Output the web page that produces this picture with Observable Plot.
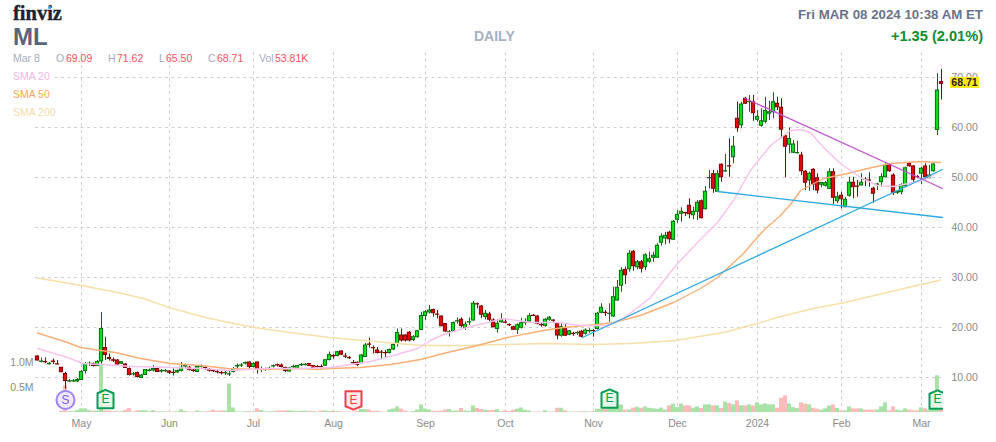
<!DOCTYPE html>
<html><head><meta charset="utf-8">
<script src="https://cdn.jsdelivr.net/npm/d3@7"></script>
<script src="https://cdn.jsdelivr.net/npm/@observablehq/plot@0.6"></script>
<style>
html,body{margin:0;padding:0;background:#fff}
#wrap{position:relative;width:996px;height:442px;overflow:hidden;font-family:"Liberation Sans",Arial,sans-serif}
#wrap svg{position:absolute;left:0;top:0;z-index:1}
.t{position:absolute;white-space:nowrap;line-height:1;z-index:2}
.lab{color:#a3aabb;font-size:10.5px}
.val{color:#f5505c;font-size:10.5px}
.sma{font-size:10.5px;background:#fff;padding-right:3px}
</style></head><body><div id="wrap">
<div id="chart"></div>
<div class="t" style="left:13px;top:2px;font:bold 20.5px 'Liberation Serif',serif;color:#1c2230;-webkit-text-stroke:.35px #1c2230">finviz</div>
<div class="t" style="left:47.5px;top:5.5px;width:3.5px;height:3.5px;border-radius:50%;background:#4aa8f5"></div>
<div class="t" style="left:13px;top:25px;font-weight:bold;font-size:24px;color:#5a6478">ML</div>
<div class="t" style="left:474px;top:29px;font-weight:bold;font-size:14px;color:#a7afc2">DAILY</div>
<div class="t" style="right:13px;top:8px;font-weight:bold;font-size:13.3px;color:#6b7388">Fri MAR 08 2024 10:38 AM ET</div>
<div class="t" style="right:13px;top:29px;font-weight:bold;font-size:14.6px;color:#0e8f2e">+1.35 (2.01%)</div>
<div class="t lab" style="left:13px;top:53px">Mar 8</div>
<div class="t lab" style="left:56px;top:53px">O</div><div class="t val" style="left:66px;top:53px">69.09</div>
<div class="t lab" style="left:108px;top:53px">H</div><div class="t val" style="left:117px;top:53px">71.62</div>
<div class="t lab" style="left:159px;top:53px">L</div><div class="t val" style="left:166px;top:53px">65.50</div>
<div class="t lab" style="left:208px;top:53px">C</div><div class="t val" style="left:217px;top:53px">68.71</div>
<div class="t lab" style="left:259px;top:53px">Vol</div><div class="t val" style="left:275px;top:53px">53.81K</div>
<div class="t sma" style="left:13px;top:71px;color:#f5b5e6">SMA 20</div>
<div class="t sma" style="left:13px;top:89px;color:#fda55e">SMA 50</div>
<div class="t sma" style="left:13px;top:107px;color:#f5dca8">SMA 200</div>
<div class="t" style="left:950px;top:77px;width:29px;height:11px;background:#ffe81a;color:#222;font-weight:bold;font-size:10.5px;line-height:11px;text-align:center">68.71</div>
</div>
<script>
const open = [
14.2,13.15,13.1,12.65,13.2,12.65,11.95,10.7,9.2,9.2,
9.2,9.5,11.3,12.7,12.7,12.3,13.2,15.9,13.9,13.45,
13.4,12.75,12.6,11.7,10.6,10.9,9.9,10.5,11.3,11.4,
11.7,11.2,11.25,11.2,10.95,11,11.3,12.2,11.95,11.4,
11.1,12.15,11.9,11.55,11.3,11.1,10.9,10.85,10.6,11.1,
12.2,12.35,12.8,13,12.1,13,11.5,11.5,11.7,12.2,
12.45,12.4,11.9,11.2,12.05,11.8,12.45,12.5,12.7,12.3,
12.1,12.1,12.35,13.5,14.3,14.3,15.2,14.2,13.9,12.9,
12.95,12.85,14.1,16.6,15.9,15.4,15,14.9,14.9,15.6,
16.7,18.4,18.4,18.95,17.5,18.05,19.5,22.3,23,23.5,
22.6,22.2,20.7,19,19.25,21.2,21.55,19.9,21,21.4,
24.65,24.2,22.1,22.6,21.4,19.7,21.05,21,20.5,20.05,
19.55,19.95,20.9,21.2,22.35,22.2,20.5,20.3,21.55,21.4,
20.85,18.35,19.85,18.55,18.75,18.85,19.15,18.75,19.25,19.3,
19.7,22.95,22.95,22.7,22.2,25.4,28.35,31.5,31.65,35.15,
32.05,33.05,32.05,33.15,33.95,33.95,36.95,37.8,38.95,37.55,
41.55,42.75,42.9,44.35,42.45,43.15,45.25,43.65,49.85,50.65,
47.15,52.55,51.2,52.25,54.05,61.75,60.45,65.75,65.05,65.05,
61.55,60.35,61.15,62.75,63.05,64.75,63.95,58.25,56.55,54.95,
54.85,54.4,51.15,49.4,51.55,49.85,48.55,48.35,47.75,51.05,
45.25,46.35,44.05,46.35,48.95,48.2,48.4,49.55,49.4,47.75,
48.55,49.05,50.05,52.55,50.4,46.95,47.05,48.25,52.75,52.2,
50.1,50.75,52.2,49.85,51.25,59.5,69.09];
const high = [
14.4,13.9,13.9,13,13.7,13.4,12,11.05,9.6,9.6,
9.8,11.4,13,13.1,12.9,13.4,23,18.05,14.7,13.9,
13.6,13.2,12.8,11.9,11,11.1,10.6,11.6,11.7,12.4,
11.9,11.6,11.6,11.4,11.7,11.5,13,12.7,12.2,11.8,
12.3,12.5,12.2,11.8,11.6,11.4,11.2,11.2,11.4,12,
12.7,12.8,13.1,13.1,13,13.1,12.1,11.9,12.1,12.5,
12.7,12.7,12.1,12,12.5,12.4,12.8,12.8,12.8,12.4,
12.4,12.5,13.5,15.1,14.6,15.2,15.4,14.8,14.2,13.4,
13.1,14.6,16.8,17.9,16.3,16,15.4,15.4,15.7,16.8,
19.7,19.7,18.6,19.2,18.4,19.4,23.05,23.4,24.4,23.7,
23.4,22.3,20.8,19.4,21.1,21.9,21.9,21.1,21.9,25.2,
24.9,24.4,23.4,23.05,21.75,21.55,22.75,21.55,20.75,20.25,
20.75,21.85,21.75,22.75,22.6,22.4,20.9,21.75,22.2,21.55,
21,20.85,20.75,19.4,19.05,19.25,19.4,19.75,19.75,19.55,
23.05,24.75,23.4,24.75,28.05,29.4,31.95,32.05,35.4,35.4,
33.4,33.4,34.75,35.05,35.05,36.75,38.75,39.05,39.25,41.4,
43.4,43.95,43.05,45.75,44.05,45.4,45.5,48.2,51.4,51.4,
51.4,52.75,54.6,57.75,58.2,65.05,65.05,66.05,66.4,66.4,
63.4,63.75,66.05,65.25,66.95,66.05,65.75,58.4,59.9,57.4,
57.25,55.05,51.4,51.05,51.75,50.75,49.05,49.2,51.75,51.75,
47.05,47.05,46.05,50.05,50.05,49.4,50.75,49.95,50.95,48.05,
48.85,50.75,52.75,52.75,50.75,47.4,48.75,52.05,52.95,52.4,
50.4,52.05,52.75,52.4,52.75,70.75,71.62];
const low = [
13.3,12.9,12.75,12.5,12.6,12.5,11,7.65,8.95,9,
8.95,9.4,10.7,12.2,12.1,12.2,12.7,13.4,13.3,13,
12.5,12.6,11.8,10.3,10.3,9.9,9.85,10.4,11.1,11.1,
11,10.9,11,10.6,10.3,10.8,11.1,11.7,11.3,11,
11,11.9,11.4,11.1,11,10.7,10.5,10.4,10.2,10.9,
11.3,12,12.5,11.7,11.9,10.7,11,11.2,11.4,11.9,
12.1,11.9,11,11.1,11.7,11.7,12.2,12.3,12.2,11.7,
11.7,11.5,12.2,13.3,13.7,14.1,14.4,13.8,13.6,12.6,
12.2,12.8,14,15.9,14.7,14.7,13.8,14,14.7,15.4,
16.1,17.1,17.1,17.1,17.2,17.9,19.4,21.4,22.7,22.1,
21.7,20.2,19.05,18.1,19.1,20.7,19.9,19.4,20.4,21.25,
23.75,21.75,21.5,21.05,19.95,18.85,20.85,20.75,20.2,19.4,
18.6,19.7,20.4,21.05,22.2,20.55,20.05,20.05,21.25,20.95,
17.55,18.05,18.3,18.35,18.25,18.45,17.95,18.45,18.85,18.05,
19.5,22.75,22.2,21.05,22.05,25.25,27.05,28.6,31.05,31.25,
31.55,30.9,31.4,32.85,33.05,33.8,36.25,36.55,36.75,37.4,
40.85,41.05,42.2,41.75,41.55,41.4,41.75,43.55,47.75,46.85,
47,49.05,51.05,50.05,52.75,59.05,59.75,64.6,63.05,61.25,
61.05,60.05,60.75,61.4,61.75,63.4,57.75,49.95,54.75,54.85,
54.7,50.4,47.4,47.25,47.4,46.75,47.95,48.1,47.55,44.6,
44.75,43.75,43.95,46.05,45.75,46.05,48.35,48.2,48.05,44.85,
47.4,48.05,49.95,51.05,46.4,46.6,46.5,48.05,52.05,49.05,
49.75,48.6,49.4,49.75,51.05,58.4,65.5];
const close = [
13.4,13.2,13.05,12.75,13.1,12.6,11.05,9.3,9.25,9.25,
9.5,11.1,12.7,12.75,12.3,13.1,19.7,14.5,13.7,13.35,
12.6,13.05,11.9,10.5,10.65,10.1,10.4,11.5,11.4,11.7,
11.1,11.3,11.3,10.95,10.9,11.3,11.95,12.3,11.55,11.3,
12.1,12.2,11.8,11.35,11.25,11.05,10.85,10.9,10.65,11.7,
12.3,12.4,12.9,12.1,12.7,11.7,11.55,11.55,11.75,12.25,
12.4,12.1,11.3,11.8,12.1,12.3,12.5,12.55,12.3,11.9,
12.05,12.05,13.45,14.5,14.2,15.05,14.55,14.15,13.85,12.85,
12.5,14.4,16.4,16.55,15.85,14.9,14.95,14.85,15.5,16.5,
18.9,17.4,17.4,17.4,18.05,19.25,22.3,23.05,23.4,22.85,
22.55,20.25,19.2,19.05,20.9,21.25,20.3,20.55,21.05,24.75,
24.6,22.55,22.75,21.55,20.05,20.75,21.55,20.95,20.45,19.55,
20.45,20.85,20.95,22.25,22.3,20.75,20.45,21.55,21.95,21.35,
18.4,20.05,18.35,19.25,18.7,18.9,18.15,19.4,19.3,19.25,
22.75,23.95,22.9,22.75,26.05,27.95,31.35,30.45,34.75,32.25,
33.05,31.75,34.45,33.65,34.35,36.35,38.15,38.35,37.65,41.15,
42.55,43.15,42.85,42.65,43.15,44.95,41.85,47.15,49.9,47.75,
50.65,50.05,51.25,52.2,56.15,59.85,64.6,64.75,65.1,62.85,
62.15,61.25,63.3,63.05,65.05,64.05,59.55,56.15,57.7,56.6,
54.9,51.25,48.95,50.75,48.6,47.4,48.9,48.85,51.05,45.95,
46.05,45.65,45.55,48.95,48.05,48.15,48.95,49.5,49.35,46.75,
48.6,50.05,52.4,51.25,46.95,47.15,48.5,51.85,52.25,49.55,
50.05,51.75,50.05,50.4,52.6,67.4,68.71];
const volumeK = [
0,0,0,0,0,0,25,530,15,15,
40,73,73,40,25,30,970,30,30,15,
15,15,45,80,10,30,35,35,15,35,
15,15,15,10,10,15,55,20,10,10,
30,15,10,20,45,25,30,30,570,90,
10,10,15,20,10,73,40,10,15,15,
30,30,30,35,25,15,20,25,25,20,
10,30,30,20,25,20,15,10,10,10,
20,60,55,50,20,25,10,5,50,70,
110,70,30,10,20,50,150,70,50,25,
20,25,50,60,25,30,80,30,20,130,
80,60,45,35,40,55,15,30,20,45,
65,90,45,30,10,10,10,35,10,10,
85,85,35,10,10,10,15,15,10,15,
65,65,65,85,85,150,150,45,50,90,
105,85,110,85,75,65,87,47,133,167,
100,167,133,133,87,113,80,153,153,133,
133,80,207,180,153,233,133,133,153,133,
193,153,173,153,153,87,287,333,173,100,
80,193,167,153,87,67,47,73,127,153,
80,33,33,113,73,73,73,47,47,47,
47,113,193,33,113,47,33,73,47,33,
33,93,73,47,60,733,53.81];

const sma20Days = [0,5,8.25,11.25,15.75,24,33.25,40.75,48.25,57.5,65.75,73.25,78.25,83.25,89,95,98.25,101.5,106.5,112.5,116.5,123.25,130,135.75,142.5,146.5,153.25,160,165,170,174,178.25,183.25,188.25,190.75,193.25,196.5,200.75,205.75,210,214,219,222.5,225];
const sma20 = [15.8,14.6,13.8,12.8,12.6,12.2,12,11.8,11.4,11.8,11.8,12,12.6,13.2,14.4,15.8,17.4,18.6,19.8,21,21.8,21,21,20.4,20.4,21.8,26,32.8,37,41,45.4,51.4,56.4,59.4,59.6,59,56,52.8,50,48.4,48.2,49,49.8,51];
const sma50Days = [0,7.5,10.75,15.75,19.5,25.75,33.25,40.75,47.5,55.75,65.75,70,73.25,80.75,88.25,95.75,102.5,110,117.5,126.5,131.5,140,144,150.75,159,165.75,170,176.5,181.5,185.75,188.25,190.75,196.5,202.5,207.5,213.25,220.75,225.75];
const sma50 = [18.9,17,16,15.4,15,13.8,12.8,12.4,11.8,11.6,11.8,11.6,11.8,12,12.6,13.6,15,16.4,18,19.4,20,20.6,21,22.4,25,27.8,30,34.8,39.4,42.4,44.6,47.4,49.8,50.8,51.8,52.8,53.2,53];
const sma200Days = [0,11,20,26.5,33.25,42.5,54,63.25,73,81.5,90,96.5,106.5,117.5,126.5,139,148,156,159.5,171.5,180,185.75,194,201.25,214.5,225.75];
const sma200 = [29.9,28.4,27,25.8,23.9,21.9,20,19,18,17.4,16.8,16.4,16.4,16.6,16.8,16.6,16.8,17.2,17.4,19,20.8,22.2,23.8,24.9,27.4,29.5];

const trendBlueUp = [[136.25,18],[226.25,51.6]];
const trendBlueDown = [[170,47.2],[226.25,42]];
const trendPurple = [[177,65.8],[226.25,47.8]];

const monthDays = [11,33,54,74,97,117,139,160,180,201,221];
const monthNames = ["May","Jun","Jul","Aug","Sep","Oct","Nov","Dec","2024","Feb","Mar"];
const priceTicks = [10,20,30,40,50,60,70];
const volumeTicksM = [0.5,1.0];
const volumeBase = 3;               // bottom of the shared y scale
const volumePerUnitK = 100;         // 1 y unit = 100K shares
const volY = k => volumeBase + k / volumePerUnitK;

const earnings = [{day:17,level:5.7,col:"#0b9c54",bg:"#e4f6e8",up:true},
                  {day:79,level:5.4,col:"#f2404f",bg:"#fde8ea",up:false},
                  {day:143,level:5.8,col:"#0b9c54",bg:"#e4f6e8",up:true},
                  {day:225,level:5.6,col:"#0b9c54",bg:"#e4f6e8",up:true}];
const splits = [{day:7,level:5.5}];

const bars = open.map((o,i)=>({i,o,h:high[i],l:low[i],c:close[i],v:volumeK[i],up:close[i]>=o}));
const toLine = (days,vals)=>days.map((d,k)=>[d,vals[k]]);

function house(up){
  const s = up?1:-1;
  return {draw(ctx,size){
    const r=Math.sqrt(size/Math.PI);
    ctx.moveTo(-r,-.72*r*s); ctx.lineTo(0,-1.15*r*s); ctx.lineTo(r,-.72*r*s);
    ctx.lineTo(r,1.15*r*s); ctx.lineTo(-r,1.15*r*s); ctx.closePath();
  }};
}

const up = bars.filter(d=>d.up), down = bars.filter(d=>!d.up);
const gridStyle = {stroke:"#cfcfcf",strokeOpacity:1,strokeDasharray:"3,3.5",strokeWidth:1};

const plot = Plot.plot({
  width:996,height:442,
  marginLeft:35,marginRight:53,marginTop:52,marginBottom:30,
  style:{background:"transparent",fontFamily:"'Liberation Sans',Arial,sans-serif",fontSize:"10.5px",overflow:"visible"},
  x:{type:"linear",domain:[-0.5,226.5],axis:null},
  y:{type:"linear",domain:[3,75],axis:null},
  marks:[
    Plot.gridY(priceTicks,{...gridStyle}),
    Plot.gridX(monthDays,{...gridStyle}),
    Plot.rect(bars,{x1:d=>d.i-0.5,x2:d=>d.i+0.5,y1:volumeBase,y2:d=>volY(d.v),fill:d=>d.up?"#a9e1a6":"#fcbcbc"}),
    Plot.axisY({anchor:"right",ticks:priceTicks,tickFormat:d3.format(".2f"),tickSize:0,tickPadding:8,label:null,fill:"#8a8a8a"}),
    Plot.axisY({anchor:"left",ticks:volumeTicksM.map(m=>volY(m*1000)),tickFormat:(d,k)=>volumeTicksM[k].toFixed(1)+"M",tickSize:0,tickPadding:2,label:null,fill:"#8a8a8a"}),
    Plot.axisX({ticks:monthDays,tickFormat:(d,k)=>monthNames[k],tickSize:0,tickPadding:7,label:null,fill:"#8a8a8a"}),
    Plot.ruleX(up,{x:"i",y1:"l",y2:"h",stroke:"#0d6b12",strokeWidth:1}),
    Plot.ruleX(down,{x:"i",y1:"l",y2:"h",stroke:"#7d0505",strokeWidth:1}),
    Plot.rect(up,{x1:d=>d.i-0.4,x2:d=>d.i+0.4,y1:"o",y2:"c",fill:"#07e01f",stroke:"#0d6b12",strokeWidth:1}),
    Plot.rect(down,{x1:d=>d.i-0.4,x2:d=>d.i+0.4,y1:"o",y2:"c",fill:"#e8000f",stroke:"#7d0505",strokeWidth:1}),
    Plot.line(toLine(sma200Days,sma200),{stroke:"#f7dfa9",strokeWidth:1.4}),
    Plot.line(toLine(sma50Days,sma50),{stroke:"#fdae74",strokeWidth:1.4}),
    Plot.line(toLine(sma20Days,sma20),{stroke:"#f9c2ec",strokeWidth:1.4}),
    Plot.line(trendBlueUp,{stroke:"#2fa9e6",strokeWidth:1.3}),
    Plot.line(trendBlueDown,{stroke:"#2fa9e6",strokeWidth:1.3}),
    Plot.line(trendPurple,{stroke:"#bf55cf",strokeWidth:1.3}),
    ...earnings.map(e=>Plot.dot([e],{x:"day",y:"level",r:8,symbol:house(e.up),fill:e.bg,stroke:e.col,strokeWidth:2,strokeLinejoin:"round",clip:"frame"})),
    ...earnings.map(e=>Plot.text([e],{x:"day",y:"level",text:()=>"E",fill:e.col,fontSize:12,fontWeight:500,clip:"frame"})),
    Plot.dot(splits,{x:"day",y:"level",r:9,fill:"#eee9ff",stroke:"#9f83fb",strokeWidth:2}),
    Plot.text(splits,{x:"day",y:"level",text:()=>"S",fill:"#7f60f0",fontSize:12})
  ]
});
document.getElementById("chart").appendChild(plot);
</script>
</body></html>
